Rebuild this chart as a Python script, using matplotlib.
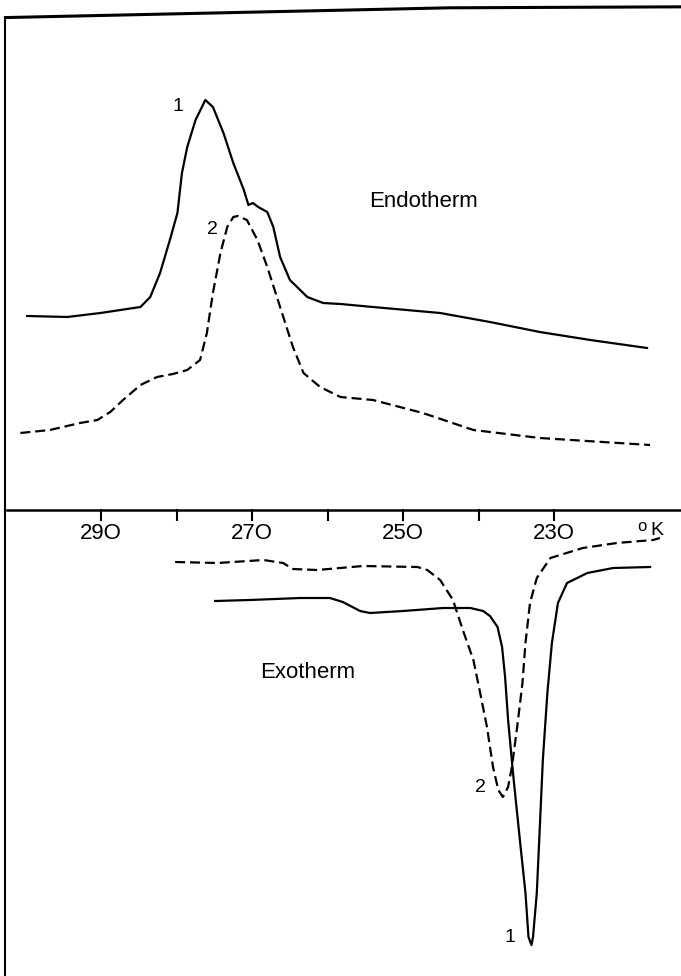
import numpy as np
import matplotlib
matplotlib.use('Agg')
import matplotlib.pyplot as plt

plt.rcParams['font.family'] = ['Liberation Sans', 'DejaVu Sans']

# --- upper panel (endotherm), temperature in K, deflection in arbitrary units
endo1_T = [299.8, 294.5, 290.1, 284.8, 283.5, 282.2, 280.9, 279.9, 279.3, 278.6,
           277.5, 276.2, 275.2, 273.8, 272.5, 271.1, 270.5, 269.9, 269.2, 268.0,
           267.2, 266.3, 265.0, 262.7, 260.6, 258.3, 254.0, 245.1, 238.5, 231.9,
           225.2, 217.7]
endo1_y = [19.4, 19.3, 19.7, 20.3, 21.3, 23.7, 27.0, 29.7, 33.7, 36.3,
           39.0, 41.0, 40.3, 37.7, 34.7, 32.0, 30.5, 30.7, 30.3, 29.8,
           28.3, 25.3, 23.0, 21.3, 20.7, 20.6, 20.3, 19.7, 18.8, 17.8,
           17.0, 16.2]

endo2_T = [300.7, 296.8, 292.8, 290.5, 288.8, 287.1, 284.8, 282.6, 280.5, 278.6,
           276.9, 276.0, 275.2, 274.2, 273.3, 272.5, 271.9, 270.7, 269.3, 268.0,
           266.3, 264.6, 263.2, 261.0, 258.3, 254.0, 247.4, 240.7, 231.9, 217.3]
endo2_y = [7.7, 8.0, 8.7, 9.0, 9.8, 11.0, 12.5, 13.3, 13.6, 14.0,
           15.0, 17.7, 21.7, 25.7, 28.3, 29.3, 29.4, 29.0, 27.0, 24.3,
           20.3, 16.3, 13.7, 12.3, 11.3, 11.0, 9.7, 8.0, 7.2, 6.5]

# --- lower panel (exotherm)
exo1_T = [274.9, 270.3, 263.6, 259.7, 258.0, 255.7, 254.4, 250.0, 244.7, 241.1,
          239.4, 238.5, 237.5, 236.9, 236.5, 236.1, 235.4, 234.5, 233.8, 233.4,
          233.0, 232.8, 232.3, 231.9, 231.5, 230.9, 230.3, 229.5, 228.3, 225.6,
          222.2, 217.3]
exo1_y = [-9.1, -9.0, -8.8, -8.8, -9.2, -10.1, -10.3, -10.1, -9.8, -9.8,
          -10.1, -10.6, -11.7, -13.7, -16.7, -21.0, -26.7, -33.3, -38.3, -42.7,
          -43.5, -42.7, -38.3, -31.7, -25.0, -18.3, -13.3, -9.3, -7.3, -6.3,
          -5.8, -5.7]

exo2_T = [280.2, 274.6, 268.5, 265.9, 264.6, 261.4, 255.3, 248.1, 246.8, 245.1,
          243.4, 242.1, 240.7, 239.8, 238.9, 238.1, 237.4, 236.8, 236.1, 235.6,
          234.9, 234.2, 233.8, 233.2, 232.3, 230.5, 226.2, 221.7, 216.9, 216.0]
exo2_y = [-5.2, -5.3, -5.0, -5.3, -5.9, -6.0, -5.6, -5.7, -6.0, -7.0,
          -9.0, -12.0, -15.0, -18.3, -21.7, -25.7, -28.0, -28.7, -27.7, -25.7,
          -21.7, -17.3, -13.3, -9.3, -6.8, -4.8, -3.8, -3.3, -3.0, -2.8]

tick_T = [290, 280, 270, 260, 250, 240, 230]
label_T = [290, 270, 250, 230]

fig = plt.figure(figsize=(6.81, 9.76), dpi=100)
ax = fig.add_axes([0, 0, 1, 1])
ax.set_xlim(303.4, 213.2)
ax.set_ylim(-46.6, 51.0)
ax.axis('off')

lw = 1.6
dash = (0, (4.5, 2.2))
ax.plot(endo1_T, endo1_y, color='black', lw=lw, solid_joinstyle='round')
ax.plot(endo2_T, endo2_y, color='black', lw=lw, linestyle=dash)
ax.plot(exo1_T, exo1_y, color='black', lw=lw, solid_joinstyle='round')
ax.plot(exo2_T, exo2_y, color='black', lw=lw, linestyle=dash)

# temperature axis across the middle
ax.plot([302.5, 213.2], [0, 0], color='black', lw=1.8)
for t in tick_T:
    ax.plot([t, t], [0, -1.0], color='black', lw=1.5)
for t in label_T:
    ax.text(t, -1.3, str(t).replace('0', 'O'), ha='center', va='top', fontsize=16)
ax.text(216.4, -1.2, 'K', ha='center', va='top', fontsize=14)
ax.text(218.4, -0.9, 'o', ha='center', va='top', fontsize=12)

# frame of the scanned sheet
ax.plot([0.008, 0.008], [0.0, 0.982], transform=ax.transAxes, color='black', lw=1.5)
ax.plot([0.008, 0.66, 1.0], [0.982, 0.992, 0.993], transform=ax.transAxes,
        color='black', lw=2.2)

# labels
ax.text(279.8, 40.3, '1', ha='center', va='center', fontsize=14)
ax.text(275.2, 28.0, '2', ha='center', va='center', fontsize=14)
ax.text(247.3, 30.8, 'Endotherm', ha='center', va='center', fontsize=16)
ax.text(262.7, -16.2, 'Exotherm', ha='center', va='center', fontsize=16)
ax.text(239.8, -27.7, '2', ha='center', va='center', fontsize=14)
ax.text(235.8, -42.8, '1', ha='center', va='center', fontsize=14)

fig.savefig('out.png', dpi=100)
